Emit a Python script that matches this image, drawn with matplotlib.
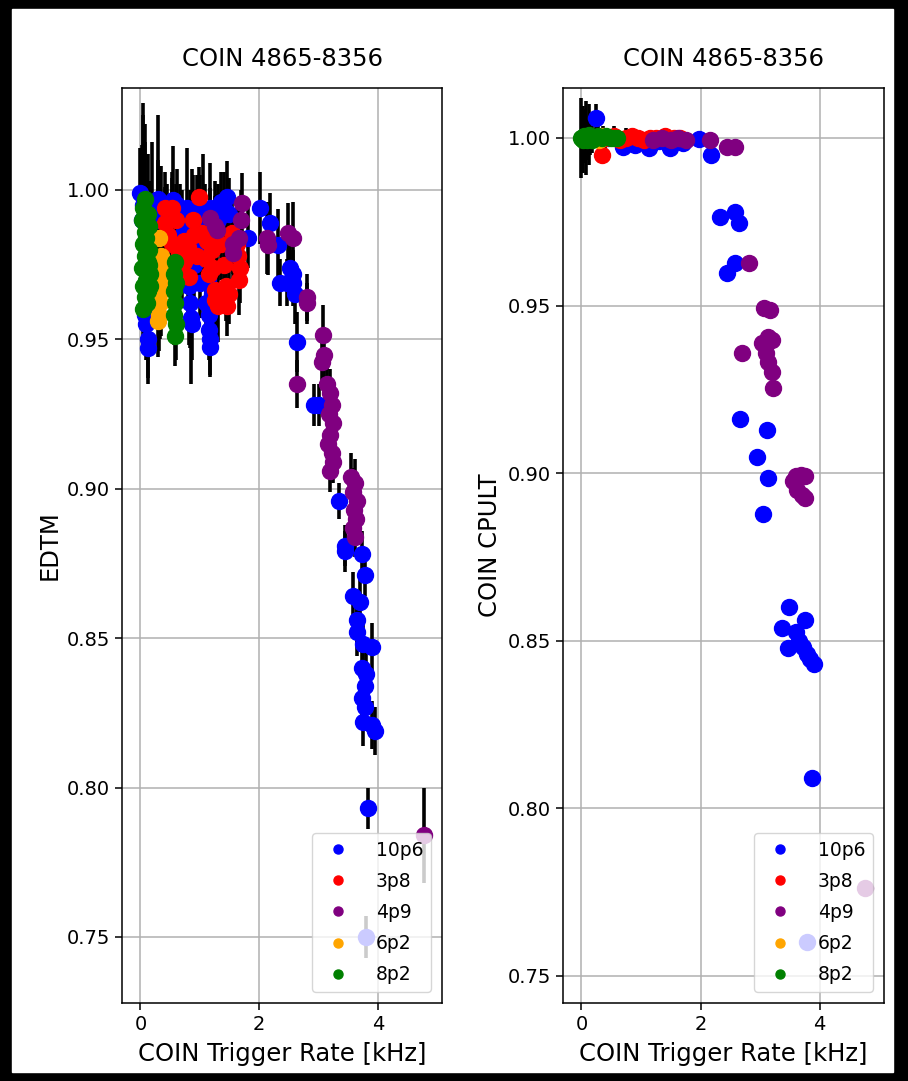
import matplotlib
matplotlib.use('Agg')
import matplotlib.pyplot as plt
from matplotlib.lines import Line2D
from matplotlib.patches import Rectangle

# ---- EDTM panel (left): rate [kHz], EDTM, error ----
blue_x_l = [0.00, 0.05, 0.03, 0.10, 0.12, 0.13, 0.08, 0.29, 0.30, 0.55, 0.54, 0.67, 0.79, 0.87, 0.84,
            0.80, 0.82, 0.84, 0.85, 0.87, 1.00, 1.05, 1.10, 1.14, 1.15, 1.16, 1.17, 1.18, 1.18, 1.30,
            1.40, 1.46, 1.82, 0.20, 0.35, 0.45, 0.62, 0.70, 0.95, 1.00, 1.08, 1.25, 1.35, 1.50, 0.90,
            0.95, 1.20, 0.17,
            2.02, 2.18, 2.32, 2.35, 2.52, 2.57, 2.47, 2.57, 2.60, 2.63, 2.93, 3.00,
            3.34, 3.45, 3.45, 3.73, 3.78, 3.58, 3.70, 3.65, 3.65, 3.75, 3.90, 3.73, 3.80, 3.78, 3.73,
            3.78, 3.75, 3.90, 3.95, 3.83, 3.80]
blue_y_l = [0.999, 0.995, 0.990, 0.955, 0.950, 0.947, 0.958, 0.997, 0.990, 0.9967, 0.991, 0.990, 0.994,
            0.992, 0.988, 0.974, 0.968, 0.962, 0.957, 0.955, 0.969, 0.992, 0.962, 0.970, 0.958, 0.953,
            0.950, 0.9475, 0.994, 0.990, 0.994, 0.9977, 0.984, 0.996, 0.993, 0.990, 0.995, 0.985, 0.993,
            0.987, 0.990, 0.993, 0.996, 0.992, 0.975, 0.980, 0.965, 0.985,
            0.994, 0.989, 0.9816, 0.969, 0.974,
            0.972, 0.969, 0.969, 0.965, 0.949, 0.928, 0.928, 0.896, 0.881, 0.879, 0.878, 0.871, 0.864,
            0.862, 0.856, 0.852, 0.848, 0.847, 0.840, 0.838, 0.834, 0.830, 0.827, 0.822, 0.821, 0.819,
            0.793, 0.750]
blue_e_l = [0.015, 0.030, 0.020, 0.012, 0.015, 0.010, 0.010, 0.028, 0.020, 0.018, 0.015, 0.012, 0.020,
            0.015, 0.012, 0.015, 0.020, 0.015, 0.022, 0.012, 0.012, 0.020, 0.015, 0.010, 0.012, 0.010,
            0.012, 0.010, 0.015, 0.012, 0.012, 0.012, 0.010, 0.020, 0.015, 0.012, 0.012, 0.015, 0.012,
            0.018, 0.012, 0.010, 0.010, 0.012, 0.015, 0.012, 0.012, 0.018,
            0.012, 0.010, 0.012, 0.008, 0.010, 0.008,
            0.008, 0.008, 0.010, 0.010, 0.007, 0.007, 0.006, 0.007, 0.007, 0.008, 0.007, 0.008, 0.008,
            0.008, 0.008, 0.008, 0.008, 0.008, 0.008, 0.008, 0.008, 0.008, 0.008, 0.008, 0.008, 0.007,
            0.007]

red_x_l = [0.99, 0.42, 0.54, 0.42, 0.47, 0.54, 0.65, 0.74, 0.80, 0.74, 0.70, 0.82, 1.04, 1.12, 1.20,
           1.10, 1.22, 1.55, 1.62, 1.64, 1.68, 1.66, 1.26, 1.25, 1.30, 1.46, 1.50, 0.60, 0.90, 0.95,
           1.15, 1.35, 1.40, 1.45, 0.88]
red_y_l = [0.9977, 0.994, 0.994, 0.989, 0.985, 0.982, 0.979, 0.983, 0.981, 0.976, 0.973, 0.971, 0.9856,
           0.983, 0.980, 0.977, 0.974, 0.9856, 0.982, 0.978, 0.974, 0.970, 0.9666, 0.963, 0.961, 0.961,
           0.965, 0.990, 0.985, 0.978, 0.972, 0.982, 0.975, 0.968, 0.990]
red_e_l = [0.010, 0.012, 0.010, 0.012, 0.012, 0.010, 0.012, 0.010, 0.012, 0.010, 0.012, 0.010, 0.012,
           0.010, 0.012, 0.010, 0.012, 0.010, 0.012, 0.010, 0.012, 0.012, 0.012, 0.010, 0.012, 0.010,
           0.010, 0.012, 0.010, 0.012, 0.010, 0.012, 0.010, 0.012, 0.015]

purple_x_l = [1.18, 1.25, 1.29, 1.71, 1.70, 1.66, 1.56, 1.56, 2.13, 2.15, 2.49, 2.57, 2.80, 2.80, 2.63,
              3.08, 3.10, 3.06, 3.14, 3.20, 3.22, 3.18, 3.25, 3.20, 3.16, 3.22, 3.25, 3.20, 3.55, 3.62,
              3.58, 3.65, 3.60, 3.63, 3.58, 3.62, 4.77]
purple_y_l = [0.9906, 0.988, 0.9866, 0.9956, 0.990, 0.984, 0.982, 0.979, 0.984, 0.9816, 0.9856, 0.984,
              0.964, 0.962, 0.935, 0.9515, 0.9448, 0.9424, 0.935, 0.932, 0.928, 0.925, 0.922, 0.918,
              0.915, 0.912, 0.909, 0.906, 0.904, 0.902, 0.899, 0.896, 0.893, 0.890, 0.887, 0.884, 0.784]
purple_e_l = [0.010, 0.010, 0.012, 0.010, 0.010, 0.012, 0.010, 0.010, 0.012, 0.010, 0.010, 0.012, 0.008,
              0.007, 0.008, 0.010, 0.008, 0.008, 0.008, 0.008, 0.007, 0.007, 0.007, 0.007, 0.007, 0.007,
              0.007, 0.007, 0.008, 0.008, 0.008, 0.007, 0.008, 0.007, 0.007, 0.007, 0.016]

orange_x_l = [0.32, 0.35, 0.37, 0.36, 0.34, 0.33, 0.32, 0.30]
orange_y_l = [0.984, 0.978, 0.975, 0.970, 0.966, 0.962, 0.958, 0.956]
orange_e_l = [0.015, 0.015, 0.012, 0.012, 0.015, 0.012, 0.012, 0.012]

green_x_l = [0.08, 0.05, 0.12, 0.03, 0.15, 0.08, 0.10, 0.04, 0.14, 0.07, 0.12, 0.03, 0.16, 0.09, 0.05,
             0.13, 0.07, 0.11, 0.04, 0.15, 0.17, 0.58, 0.56, 0.60, 0.57, 0.59, 0.56, 0.60, 0.58]
green_y_l = [0.997, 0.994, 0.992, 0.990, 0.988, 0.986, 0.984, 0.982, 0.980, 0.978, 0.976, 0.974, 0.972,
             0.970, 0.968, 0.966, 0.964, 0.962, 0.960, 0.975, 0.968, 0.976, 0.972, 0.969, 0.966, 0.962,
             0.958, 0.955, 0.951]
green_e_l = [0.025, 0.035, 0.020, 0.025, 0.015, 0.030, 0.018, 0.022, 0.015, 0.020, 0.018, 0.015, 0.012,
             0.020, 0.015, 0.015, 0.012, 0.015, 0.012, 0.015, 0.012, 0.012, 0.010, 0.012, 0.010, 0.012,
             0.010, 0.012, 0.010]

# ---- COIN CPULT panel (right) ----
blue_x_r = [0.10, 0.24, 0.45, 0.69, 0.90, 1.14, 1.30, 1.48, 1.70, 1.98, 2.17, 2.32, 2.57, 2.64, 2.57,
            2.45, 2.66, 3.11, 2.94, 3.13, 3.04, 3.48, 3.36, 3.76, 3.61, 3.46, 3.66, 3.72, 3.78, 3.84,
            3.90, 3.87, 3.78]
blue_y_r = [1.000, 1.006, 1.000, 0.9973, 0.998, 0.997, 0.999, 0.997, 0.9985, 0.9996, 0.995, 0.9764,
            0.978, 0.9747, 0.9627, 0.9597, 0.9162, 0.9129, 0.9048, 0.8986, 0.8878, 0.860, 0.8538,
            0.8562, 0.8526, 0.8479, 0.850, 0.848, 0.846, 0.8445, 0.843, 0.809, 0.760]
blue_e_r = [0.004, 0.004, 0.002, 0.002, 0.002, 0.002, 0.002, 0.002, 0.002, 0.002, 0.002, 0.001, 0.001,
            0.001, 0.001, 0.001, 0.001, 0.001, 0.001, 0.001, 0.001, 0.001, 0.001, 0.001, 0.001, 0.001,
            0.001, 0.001, 0.001, 0.001, 0.001, 0.001, 0.001]

red_x_r = [0.35, 0.40, 0.55, 0.65, 0.75, 0.85, 0.95, 1.05, 1.15, 1.25, 1.40, 1.55, 1.65]
red_y_r = [0.995, 1.000, 1.0005, 0.9995, 1.000, 1.0005, 1.000, 0.9995, 1.000, 1.000, 1.0005, 1.000, 1.000]
red_e_r = [0.002, 0.003, 0.003, 0.002, 0.003, 0.002, 0.002, 0.002, 0.002, 0.002, 0.002, 0.002, 0.002]

purple_x_r = [1.20, 1.35, 1.50, 1.62, 1.75, 2.15, 2.45, 2.57, 2.82, 2.69, 3.06, 3.16, 3.14, 3.03, 3.20,
              3.10, 3.14, 3.20, 3.21, 3.55, 3.60, 3.68, 3.75, 3.62, 3.70, 3.75, 4.76]
purple_y_r = [0.9995, 1.000, 0.9995, 1.000, 0.9995, 0.9994, 0.9973, 0.9973, 0.9627, 0.9359, 0.9493,
              0.9487, 0.9406, 0.9388, 0.9397, 0.9359, 0.9332, 0.9302, 0.9254, 0.8975, 0.8990, 0.8995,
              0.8990, 0.8950, 0.8935, 0.8925, 0.7763]
purple_e_r = [0.001] * len(purple_x_r)

orange_x_r = [0.30, 0.32, 0.36]
orange_y_r = [0.9995, 1.000, 1.0005]
orange_e_r = [0.003, 0.003, 0.003]

green_x_r = [0.00, 0.03, 0.05, 0.08, 0.10, 0.12, 0.15, 0.18, 0.22, 0.28, 0.35, 0.42, 0.50, 0.55, 0.60]
green_y_r = [1.000, 0.9995, 1.0005, 1.000, 0.9995, 1.001, 1.000, 0.9995, 1.000, 1.0005, 1.000, 1.0005,
             1.000, 1.000, 1.000]
green_e_r = [0.012, 0.010, 0.008, 0.011, 0.006, 0.009, 0.005, 0.004, 0.003, 0.003, 0.002, 0.002, 0.002,
             0.002, 0.002]

labels = ['10p6', '3p8', '4p9', '6p2', '8p2']
colors = ['blue', 'red', 'purple', 'orange', 'green']

left_sets = [(blue_x_l, blue_y_l, blue_e_l), (red_x_l, red_y_l, red_e_l),
             (purple_x_l, purple_y_l, purple_e_l), (orange_x_l, orange_y_l, orange_e_l),
             (green_x_l, green_y_l, green_e_l)]
right_sets = [(blue_x_r, blue_y_r, blue_e_r), (red_x_r, red_y_r, red_e_r),
              (purple_x_r, purple_y_r, purple_e_r), (orange_x_r, orange_y_r, orange_e_r),
              (green_x_r, green_y_r, green_e_r)]

FS = 17.5
TFS = 14

fig = plt.figure(figsize=(9.08, 10.81), dpi=100, facecolor='black')
# white page inside the black frame
fig.patches.append(Rectangle((12 / 908, 9 / 1081), 881 / 908, 1063 / 1081,
                             transform=fig.transFigure, color='white', zorder=-10))

ax1 = fig.add_axes([122 / 908, 78 / 1081, 320 / 908, 915 / 1081])
ax2 = fig.add_axes([563 / 908, 78 / 1081, 321 / 908, 915 / 1081])


def draw_panel(ax, sets, ylabel, ylim, yticks):
    for x, y, e in sets:
        ax.errorbar(x, y, yerr=e, fmt='none', ecolor='black', elinewidth=2.6, zorder=1.5)
    for (x, y, e), c in zip(sets, colors):
        ax.plot(x, y, 'o', color=c, ms=11.5, zorder=2)
    ax.set_xlim(-0.31, 5.08)
    ax.set_ylim(*ylim)
    ax.set_xticks([0, 2, 4])
    ax.set_yticks(yticks)
    ax.set_yticklabels([f'{t:.2f}' for t in yticks])
    ax.grid(True, color='#b0b0b0', lw=1.1)
    ax.set_axisbelow(True)
    ax.tick_params(labelsize=TFS, length=5, width=1.1)
    for s in ax.spines.values():
        s.set_linewidth(1.1)
    ax.set_title('COIN 4865-8356', fontsize=FS, pad=16)
    ax.set_xlabel('COIN Trigger Rate [kHz]', fontsize=FS, labelpad=6)
    ax.set_ylabel(ylabel, fontsize=FS)
    handles = [Line2D([], [], ls='', marker='o', color=c, ms=6.5) for c in colors]
    ax.legend(handles, labels, loc='lower right', fontsize=13.5, labelspacing=0.65,
              handletextpad=1.0, borderaxespad=0.6)


draw_panel(ax1, left_sets, 'EDTM', (0.7279, 1.0341), [0.75, 0.80, 0.85, 0.90, 0.95, 1.00])
draw_panel(ax2, right_sets, 'COIN CPULT', (0.7419, 1.0149), [0.75, 0.80, 0.85, 0.90, 0.95, 1.00])

fig.savefig('out.png', dpi=100, facecolor=fig.get_facecolor())
